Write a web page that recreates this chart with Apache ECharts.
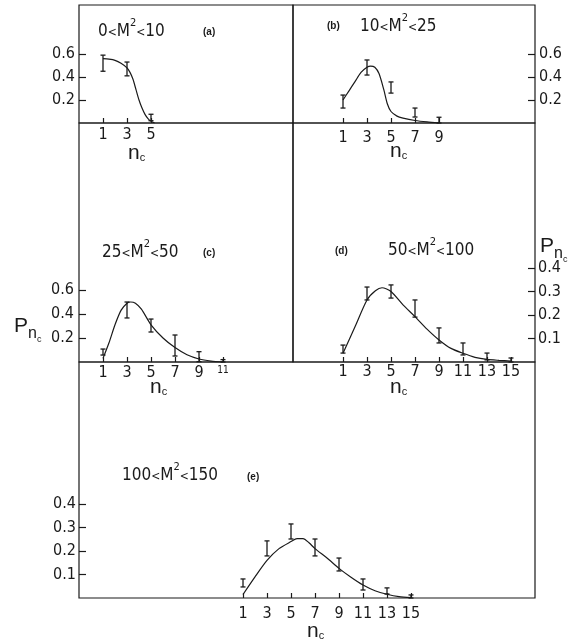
<!DOCTYPE html>
<html>
<head>
<meta charset="utf-8">
<script src="https://cdn.jsdelivr.net/npm/echarts@6/dist/echarts.min.js"></script>
<style>
html,body{margin:0;padding:0;background:#fff}
#chart{width:572px;height:639px}
</style>
</head>
<body>
<div id="chart"></div>
<script>
// (a) 0<M2<10
var ncA = [1, 3, 5];
var loA = [0.45, 0.41, 0.02];
var hiA = [0.59, 0.53, 0.076];
var fitXA = [1, 1.5, 2, 2.5, 3, 3.25, 3.5, 3.75, 4, 4.25, 4.5, 4.75, 5, 5.3];
var fitYA = [0.56, 0.555, 0.545, 0.52, 0.48, 0.44, 0.38, 0.29, 0.2, 0.13, 0.075, 0.038, 0.015, 0];

// (b) 10<M2<25
var ncB = [1, 3, 5, 7, 9];
var loB = [0.13, 0.417, 0.26, 0.052, 0.0];
var hiB = [0.243, 0.548, 0.357, 0.13, 0.05];
var fitXB = [1, 1.5, 2, 2.5, 3, 3.3, 3.65, 4, 4.4, 4.7, 5, 5.5, 6, 7, 8, 9];
var fitYB = [0.2, 0.28, 0.36, 0.44, 0.485, 0.495, 0.485, 0.43, 0.29, 0.165, 0.1, 0.06, 0.043, 0.022, 0.009, 0];

// (c) 25<M2<50
var ncC = [1, 3, 5, 7, 9, 11];
var loC = [0.058, 0.367, 0.25, 0.05, 0.003, 0.0];
var hiC = [0.108, 0.5, 0.358, 0.225, 0.086, 0.02];
var fitXC = [1, 1.5, 2, 2.5, 3, 3.3, 3.7, 4.2, 5, 6, 7, 8, 9, 10, 11];
var fitYC = [0.03, 0.16, 0.31, 0.43, 0.49, 0.5, 0.49, 0.44, 0.31, 0.2, 0.12, 0.06, 0.025, 0.008, 0];

// (d) 50<M2<100
var ncD = [1, 3, 5, 7, 9, 11, 13, 15];
var loD = [0.038, 0.264, 0.272, 0.191, 0.081, 0.03, 0.009, 0.0];
var hiD = [0.072, 0.319, 0.328, 0.264, 0.145, 0.081, 0.038, 0.017];
var fitXD = [1, 2, 3, 3.7, 4.25, 5, 6, 7, 8, 9, 10, 11, 12, 13, 14, 15];
var fitYD = [0.037, 0.15, 0.264, 0.303, 0.316, 0.3, 0.243, 0.193, 0.14, 0.094, 0.058, 0.037, 0.02, 0.011, 0.007, 0.004];

// (e) 100<M2<150
var ncE = [1, 3, 5, 7, 9, 11, 13, 15];
var loE = [0.047, 0.179, 0.251, 0.179, 0.115, 0.034, 0.017, 0.0];
var hiE = [0.081, 0.243, 0.315, 0.251, 0.17, 0.081, 0.043, 0.013];
var fitXE = [1, 2, 3, 4, 5, 5.5, 6, 6.5, 7, 8, 9, 10, 11, 12, 13, 14, 15];
var fitYE = [0.015, 0.09, 0.16, 0.21, 0.24, 0.253, 0.253, 0.235, 0.21, 0.17, 0.126, 0.088, 0.055, 0.031, 0.016, 0.006, 0.002];

// tick labels
var xTicksA = [1, 3, 5];
var xTicksB = [1, 3, 5, 7, 9];
var xTicksC = [1, 3, 5, 7, 9, 11];
var xTicksDE = [1, 3, 5, 7, 9, 11, 13, 15];
var yTicksHi = [0.2, 0.4, 0.6];
var yTicksLo = [0.1, 0.2, 0.3, 0.4];

var INK = '#1a1a1a';
var NARROW = '"Liberation Sans Narrow", "DejaVu Sans Condensed", "Liberation Sans", sans-serif';
var SANS = '"Liberation Sans", Arimo, sans-serif';

var panels = [
  {box: [79, 5, 214, 118], x: [-1, 16.833], y: [0, 1.026], ySide: 'left', xt: xTicksA, yt: yTicksHi, xm: 4, ym: 4,
   nc: ncA, lo: loA, hi: hiA, fx: fitXA, fy: fitYA},
  {box: [293, 5, 242, 118], x: [-3.167, 17], y: [0, 1.026], ySide: 'right', xt: xTicksB, yt: yTicksHi, xm: 7, ym: 4,
   nc: ncB, lo: loB, hi: hiB, fx: fitXB, fy: fitYB},
  {box: [79, 123, 214, 239], x: [-1, 16.833], y: [0, 1.992], ySide: 'left', xt: xTicksC, yt: yTicksHi, xm: 3, ym: 5,
   nc: ncC, lo: loC, hi: hiC, fx: fitXC, fy: fitYC},
  {box: [293, 123, 242, 239], x: [-3.167, 17], y: [0, 1.017], ySide: 'right', xt: xTicksDE, yt: yTicksLo, xm: 2, ym: 3,
   nc: ncD, lo: loD, hi: hiD, fx: fitXD, fy: fitYD},
  {box: [79, 362, 456, 236], x: [-12.667, 25.333], y: [0, 1.004], ySide: 'left', xt: xTicksDE, yt: yTicksLo, xm: 8, ym: 3,
   nc: ncE, lo: loE, hi: hiE, fx: fitXE, fy: fitYE}
];

function errBar(params, api) {
  var n = api.value(0);
  var top = api.coord([n, api.value(2)]);
  var bot = api.coord([n, api.value(1)]);
  var w = 2.5;
  var st = {stroke: INK, lineWidth: 1.3};
  return {type: 'group', children: [
    {type: 'line', shape: {x1: top[0], y1: top[1], x2: bot[0], y2: bot[1]}, style: st},
    {type: 'line', shape: {x1: top[0] - w, y1: top[1], x2: top[0] + w, y2: top[1]}, style: st},
    {type: 'line', shape: {x1: bot[0] - w, y1: bot[1], x2: bot[0] + w, y2: bot[1]}, style: st}
  ]};
}

var grids = [], xAxes = [], yAxes = [], series = [];
panels.forEach(function (p, i) {
  grids.push({left: p.box[0], top: p.box[1], width: p.box[2], height: p.box[3],
    show: true, borderColor: INK, borderWidth: 1.2, backgroundColor: 'transparent'});
  xAxes.push({
    gridIndex: i, type: 'value', min: p.x[0], max: p.x[1],
    axisLine: {show: false, onZero: false}, splitLine: {show: false},
    axisTick: {show: true, inside: true, length: 5, customValues: p.xt, lineStyle: {color: INK, width: 1.2}},
    axisLabel: {customValues: p.xt, margin: p.xm, fontFamily: NARROW, fontSize: 16, color: INK,
      formatter: function (v) { return (i === 2 && v === 11) ? '{s|11}' : String(v); },
      rich: {s: {fontSize: 10, fontFamily: NARROW, color: INK, padding: [0, 0, 6, 0]}}}
  });
  yAxes.push({
    gridIndex: i, type: 'value', min: p.y[0], max: p.y[1], position: p.ySide,
    axisLine: {show: false, onZero: false}, splitLine: {show: false},
    axisTick: {show: true, inside: true, length: 7, customValues: p.yt, lineStyle: {color: INK, width: 1.2}},
    axisLabel: {customValues: p.yt, margin: p.ym, fontFamily: NARROW, fontSize: 16, color: INK,
      formatter: function (v) { return v.toFixed(1); }}
  });
  series.push({
    type: 'line', xAxisIndex: i, yAxisIndex: i, smooth: 0.25,
    showSymbol: false, silent: true,
    lineStyle: {color: INK, width: 1.2},
    data: p.fx.map(function (x, k) { return [x, p.fy[k]]; })
  });
  series.push({
    type: 'custom', xAxisIndex: i, yAxisIndex: i, silent: true, renderItem: errBar,
    encode: {x: 0, y: [1, 2]},
    data: p.nc.map(function (n, k) { return [n, p.lo[k], p.hi[k]]; })
  });
});

function label(x, y, text, size, extra) {
  return {type: 'text', x: x, y: y, silent: true,
    style: Object.assign({text: text, fontSize: size, fontFamily: NARROW, fill: INK,
      align: 'left', verticalAlign: 'middle'}, extra || {})};
}
var supRich = {
  s: {fontSize: 11, fontFamily: NARROW, fill: INK, padding: [0, 0, 18, 0]},
  l: {fontSize: 12, fontFamily: NARROW, fill: INK, padding: [2, 0, 0, 0]}
};
var ncRich = {c: {fontSize: 11, fontFamily: SANS, fill: INK, padding: [10, 0, 0, 0]}};
var pRich = {n: {fontSize: 16, fontFamily: SANS, fill: INK, padding: [16, 0, 0, 0]},
             c: {fontSize: 9, fontFamily: SANS, fill: INK, padding: [28, 0, 0, 0]}};
var tag = {fontWeight: 'bold', fontFamily: SANS};

var texts = [
  label(98, 32, '0{l|<}M{s|2}{l|<}10', 17, {rich: supRich}),
  label(203, 32, '(a)', 10, tag),
  label(327, 26, '(b)', 10, tag),
  label(360, 27, '10{l|<}M{s|2}{l|<}25', 17, {rich: supRich}),
  label(102, 253, '25{l|<}M{s|2}{l|<}50', 17, {rich: supRich}),
  label(203, 253, '(c)', 10, tag),
  label(335, 251, '(d)', 10, tag),
  label(388, 251, '50{l|<}M{s|2}{l|<}100', 17, {rich: supRich}),
  label(122, 476, '100{l|<}M{s|2}{l|<}150', 17, {rich: supRich}),
  label(247, 477, '(e)', 10, tag),
  label(128, 153, 'n{c|c}', 21, {fontFamily: SANS, rich: ncRich}),
  label(390, 151, 'n{c|c}', 21, {fontFamily: SANS, rich: ncRich}),
  label(150, 387, 'n{c|c}', 21, {fontFamily: SANS, rich: ncRich}),
  label(390, 387, 'n{c|c}', 21, {fontFamily: SANS, rich: ncRich}),
  label(307, 631, 'n{c|c}', 21, {fontFamily: SANS, rich: ncRich}),
  label(14, 326, 'P{n|n}{c|c}', 21, {fontFamily: SANS, rich: pRich}),
  label(540, 246, 'P{n|n}{c|c}', 21, {fontFamily: SANS, rich: pRich})
];

var chart = echarts.init(document.getElementById('chart'), null, {renderer: 'canvas'});
chart.setOption({
  backgroundColor: '#fff',
  animation: false,
  grid: grids,
  xAxis: xAxes,
  yAxis: yAxes,
  series: series,
  graphic: texts
});
window.addEventListener('resize', function () { chart.resize(); });
</script>
</body>
</html>
